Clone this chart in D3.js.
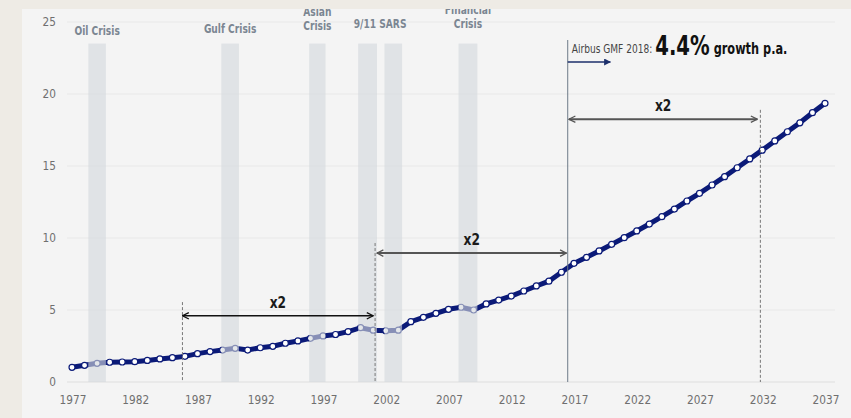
<!DOCTYPE html>
<html>
<head>
<meta charset="utf-8">
<script src="https://cdn.jsdelivr.net/npm/d3@7"></script>
<style>
  html, body { margin: 0; padding: 0; background: #eeebe5; }
  svg { display: block; font-family: "Liberation Sans Narrow", "DejaVu Sans Condensed", "Arial Narrow", sans-serif; }
</style>
</head>
<body>
<div id="chart"></div>
<script>
// world traffic (trillion RPK), history + Airbus GMF 2018 forecast
const years = d3.range(1977, 2038);
const traffic = [
  1.02, 1.16, 1.30, 1.37, 1.39, 1.41, 1.50, 1.60, 1.69, 1.78,
  1.97, 2.11, 2.22, 2.34, 2.22, 2.38, 2.48, 2.69, 2.85, 3.03,
  3.20, 3.30, 3.50, 3.77, 3.60, 3.56, 3.60, 4.19, 4.49, 4.77,
  5.05, 5.19, 5.00, 5.42, 5.69, 5.97, 6.32, 6.67, 7.00, 7.62,
  8.24, 8.66, 9.10, 9.56, 10.02, 10.49, 10.97, 11.48, 12.01, 12.57,
  13.10, 13.68, 14.26, 14.88, 15.49, 16.10, 16.74, 17.38, 18.00, 18.70,
  19.35
];
const xTicks = [1977, 1982, 1987, 1992, 1997, 2002, 2007, 2012, 2017, 2022, 2027, 2032, 2037];
const yTicks = [0, 5, 10, 15, 20, 25];

const crisisNames = [["Oil Crisis"], ["Gulf Crisis"], ["Asian", "Crisis"], ["9/11 SARS"], null, ["Financial", "Crisis"]];
const crisisStart = [1978.3, 1988.9, 1995.9, 1999.8, 2001.9, 2007.8];
const crisisEnd   = [1979.7, 1990.3, 1997.2, 2001.3, 2003.3, 2009.3];

// doubling spans: [from, to, level]
const doublings = [[1985.8, 2001.0, 4.6], [2001.3, 2016.4, 8.95], [2016.6, 2031.6, 18.25]];

const width = 851, height = 418;
const x = d3.scaleLinear().domain([1977, 2037]).range([72, 825]);
const y = d3.scaleLinear().domain([0, 25]).range([382, 22]);

const svg = d3.select('#chart').append('svg')
  .attr('width', width)
  .attr('height', height);

const defs = svg.append('defs');
defs.append('clipPath').attr('id', 'panel')
  .append('rect').attr('x', 22).attr('y', 9).attr('width', width - 22).attr('height', height - 9);

function head(id, color) {
  defs.append('marker')
    .attr('id', id)
    .attr('viewBox', '0 0 10 10')
    .attr('refX', 9).attr('refY', 5)
    .attr('markerWidth', 8).attr('markerHeight', 8)
    .attr('markerUnits', 'userSpaceOnUse')
    .attr('orient', 'auto-start-reverse')
    .append('path')
    .attr('d', 'M1,1 L9,5 L1,9')
    .attr('fill', 'none')
    .attr('stroke', color)
    .attr('stroke-width', 1.6);
}
head('hBlack', '#111');
head('hGray', '#555');
defs.append('marker')
  .attr('id', 'hNavy')
  .attr('viewBox', '0 0 10 10')
  .attr('refX', 9).attr('refY', 5)
  .attr('markerWidth', 7).attr('markerHeight', 7)
  .attr('markerUnits', 'userSpaceOnUse')
  .attr('orient', 'auto')
  .append('path').attr('d', 'M0,0 L10,5 L0,10 Z').attr('fill', '#1c2f6b');

const g = svg.append('g').attr('clip-path', 'url(#panel)');

g.append('rect')
  .attr('x', 22).attr('y', 9)
  .attr('width', width - 22).attr('height', height - 9)
  .attr('fill', '#f4f4f4');

// gridlines
g.selectAll('.grid').data(yTicks).enter().append('line')
  .attr('x1', 67).attr('x2', 835)
  .attr('y1', d => y(d)).attr('y2', d => y(d))
  .attr('stroke', d => d === 0 ? '#dedede' : '#e8e8e8')
  .attr('stroke-width', 1);

// y labels
g.selectAll('.ylab').data(yTicks).enter().append('text')
  .attr('transform', d => `translate(56,${y(d) + 4}) scale(0.9,1)`)
  .attr('text-anchor', 'end')
  .attr('fill', '#6f6f6f')
  .style('font-size', '13px')
  .text(d => d);

// x labels
g.selectAll('.xlab').data(xTicks).enter().append('text')
  .attr('transform', d => `translate(${x(d) + 1},404) scale(0.9,1)`)
  .attr('text-anchor', 'middle')
  .attr('fill', '#6f6f6f')
  .style('font-size', '13px')
  .text(d => d);

// series
const pts = years.map((yr, i) => [yr, traffic[i]]);
g.append('path')
  .datum(pts)
  .attr('fill', 'none')
  .attr('stroke', '#0b1a78')
  .attr('stroke-width', 5)
  .attr('d', d3.line().x(d => x(d[0])).y(d => y(d[1])));

g.selectAll('.dot').data(pts).enter().append('circle')
  .attr('cx', d => x(d[0])).attr('cy', d => y(d[1]))
  .attr('r', 3)
  .attr('fill', '#fff')
  .attr('stroke', '#0b1a78')
  .attr('stroke-width', 1.2);

// crisis bands over the line
g.selectAll('.band').data(crisisStart).enter().append('rect')
  .attr('x', d => x(d))
  .attr('width', (d, i) => x(crisisEnd[i]) - x(d))
  .attr('y', y(23.5))
  .attr('height', y(0) - y(23.5))
  .attr('fill', '#d3d8dd')
  .attr('opacity', 0.62);

const labDy = [35, 33, 16, 28, null, 14];
crisisNames.forEach((lines, i) => {
  if (!lines) return;
  const cx = i === 3 ? (x(crisisStart[3]) + x(crisisEnd[4])) / 2 : (x(crisisStart[i]) + x(crisisEnd[i])) / 2;
  const t = g.append('text')
    .attr('transform', `translate(${cx},${labDy[i]}) scale(0.78,1)`)
    .attr('text-anchor', 'middle')
    .attr('fill', '#7b8692')
    .style('font-size', '13px')
    .style('font-weight', 'bold');
  lines.forEach((s, k) => t.append('tspan').attr('x', 0).attr('dy', k === 0 ? 0 : 14).text(s));
});

// forecast start line
g.append('line')
  .attr('x1', x(2016.5)).attr('x2', x(2016.5))
  .attr('y1', y(23.75)).attr('y2', y(0))
  .attr('stroke', '#6d7a88').attr('stroke-width', 1);

g.append('line')
  .attr('x1', x(2016.5)).attr('x2', x(2019.9))
  .attr('y1', 62).attr('y2', 62)
  .attr('stroke', '#1c2f6b').attr('stroke-width', 1.3)
  .attr('marker-end', 'url(#hNavy)');

const gmf = g.append('text')
  .attr('transform', `translate(${x(2016.5) + 4},53) scale(0.84,1)`)
  .attr('fill', '#111');
gmf.append('tspan').style('font-size', '12px').attr('fill', '#444').text('Airbus GMF 2018: ');
gmf.append('tspan').style('font-size', '26px').style('font-weight', 'bold').attr('dy', 2).text('4.4%');
gmf.append('tspan').style('font-size', '15px').style('font-weight', 'bold').attr('dy', -1).text(' growth p.a.');

// doubling annotations
const dashTop = [5.55, 9.65, 18.9];
const dashX = [[1985.8], [2001.15], [2031.85]];
doublings.forEach((d, i) => {
  dashX[i].forEach(xx => {
    g.append('line')
      .attr('x1', x(xx)).attr('x2', x(xx))
      .attr('y1', y(dashTop[i])).attr('y2', y(0))
      .attr('stroke', '#777').attr('stroke-width', 1)
      .attr('stroke-dasharray', '3,2');
  });
  const col = i === 0 ? '#111' : '#555';
  g.append('line')
    .attr('x1', x(d[0])).attr('x2', x(d[1]))
    .attr('y1', y(d[2])).attr('y2', y(d[2]))
    .attr('stroke', col).attr('stroke-width', i === 0 ? 1.6 : 2)
    .attr('marker-start', `url(#${i === 0 ? 'hBlack' : 'hGray'})`)
    .attr('marker-end', `url(#${i === 0 ? 'hBlack' : 'hGray'})`);
  g.append('text')
    .attr('transform', `translate(${(x(d[0]) + x(d[1])) / 2},${y(d[2]) - 8}) scale(0.85,1)`)
    .attr('text-anchor', 'middle')
    .attr('fill', '#1a1a1a')
    .style('font-size', '16px')
    .style('font-weight', 'bold')
    .text('x2');
});
</script>
</body>
</html>
